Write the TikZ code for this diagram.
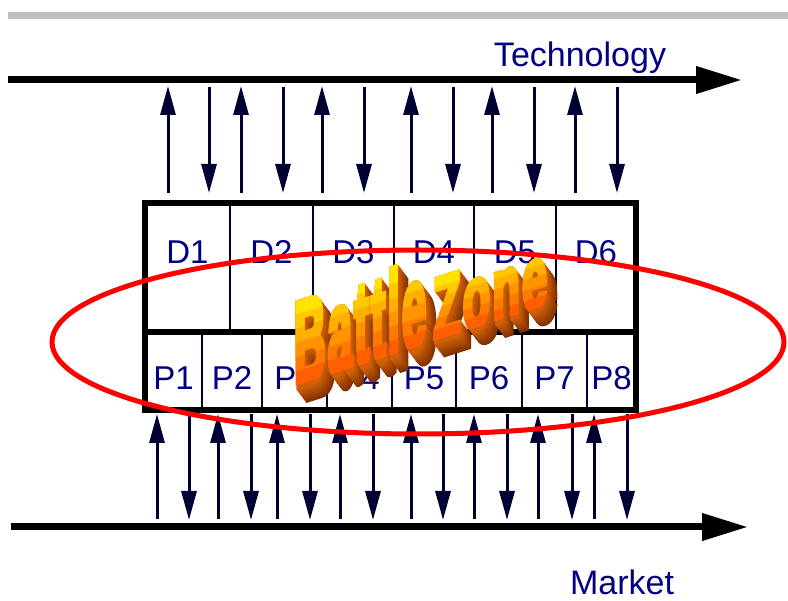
\documentclass[tikz,border=0pt]{standalone}
\usepackage{fontspec}
\setmainfont{Liberation Sans}
\newfontfamily\bzfont{Liberation Sans}[BoldFeatures={FakeBold=6,LetterSpace=5}]
\usetikzlibrary{arrows.meta}

\definecolor{navytext}{RGB}{0,0,128}
\definecolor{navyline}{RGB}{0,0,50}
\definecolor{bargray}{RGB}{192,192,192}
\definecolor{bztop}{RGB}{255,228,0}
\definecolor{bzbot}{RGB}{255,95,0}
\definecolor{bzside}{RGB}{215,100,10}
\definecolor{bzdeep}{RGB}{125,48,0}

\tikzset{
  flow/.style={line width=7pt, black, -{Triangle[length=46pt,width=26pt]}},
  link/.style={line width=3pt, navyline, -{Triangle[length=29pt,width=15pt]}},
  thinline/.style={line width=2pt, navyline},
  thickline/.style={line width=6pt, black, line cap=round},
  lbl/.style={text=navytext, font=\fontsize{34}{34}\selectfont, inner sep=0pt},
  cell/.style={text=navytext, font=\fontsize{33}{33}\selectfont, inner sep=0pt},
  bzface/.style={inner sep=0pt, anchor=base west, transform shape},
}

% one word of the 3D "Battle Zone" lettering
\newcommand{\bzword}[5]{%
  \foreach \k [evaluate=\k as \pc using {int(7*\k)}] in {14,13,...,1} {
    \begin{scope}[shift={#1}, xshift={0.75pt*\k}, yshift={-1pt*\k}, cm={#2,#3,0,1,(0,0)}]
      \node[bzface, font=\bzfont\bfseries\fontsize{#4}{#4}\selectfont, text=bzdeep!\pc!bzside] at (0,0) {#5};
    \end{scope}}
  \foreach \h/\pc in {0/0,0.12/20,0.24/40,0.36/60,0.48/80,0.6/100} {
    \begin{scope}[shift={#1}, cm={#2,#3,0,1,(0,0)}]
      \clip (-20,{-\h*#4}) rectangle (500,-200);
      \node[bzface, font=\bzfont\bfseries\fontsize{#4}{#4}\selectfont, text=bztop!\pc!bzbot] at (0,0) {#5};
    \end{scope}}
}

\begin{document}
\begin{tikzpicture}[x=1pt,y=-1pt]
  \useasboundingbox (0,0) rectangle (788,601);
  \fill[bargray] (8,12) rectangle (788,19);

  % technology and market lines
  \coordinate (techstart) at (8,80);
  \coordinate (techend) at (742,80);
  \draw[flow] (techstart) -- (techend);
  \node[lbl, anchor=base] (tech) at (580,67) {Technology};
  \coordinate (mktstart) at (11,527);
  \coordinate (mktend) at (748,527);
  \draw[flow] (mktstart) -- (mktend);
  \node[lbl, anchor=base] (mkt) at (622,595) {Market};

  % design row
  \foreach \a/\b [count=\i] in {145/230,230/313,313/394,394/474,474/556,556/636} {
    \draw[thinline] (\a,203) rectangle (\b,332);
    \node[cell] (d\i) at ({(\a+\b)/2},252) {D\i};
  }
  % product row
  \foreach \a/\b [count=\i] in {145/202,202/262,262/327,327/392,392/456,456/522,522/587,587/636} {
    \draw[thinline] (\a,332) rectangle (\b,410);
    \node[cell] (p\i) at ({(\a+\b)/2},378) {P\i};
  }
  \draw[thickline] (145,203) rectangle (636,410);
  \draw[thickline] (145,332) -- (636,332);

  % arrows to and from technology
  \foreach \x [count=\i] in {168,241,322,411,492,575} {
    \coordinate (tu\i) at (\x,86);
    \coordinate (bu\i) at (\x,193);
    \draw[link] (bu\i) -- (tu\i);
  }
  \foreach \x [count=\i] in {209,283,364,453,534,617} {
    \coordinate (td\i) at (\x,87);
    \coordinate (bd\i) at (\x,193);
    \draw[link] (td\i) -- (bd\i);
  }
  % arrows to and from market
  \foreach \x [count=\i] in {157,218,277,340,411,474,538,594} {
    \coordinate (mu\i) at (\x,519);
    \coordinate (pu\i) at (\x,414);
    \draw[link] (mu\i) -- (pu\i);
  }
  \foreach \x [count=\i] in {189,251,310,373,443,507,572,627} {
    \coordinate (pd\i) at (\x,414);
    \coordinate (md\i) at (\x,520);
    \draw[link] (pd\i) -- (md\i);
  }

  % battle zone
  \draw[red, line width=5pt] (418,342) ellipse [x radius=366pt, y radius=92pt];
  \bzword{(294,386)}{0.37}{0.118}{118}{Battle}
  \bzword{(433,341)}{0.51}{0.163}{88}{Zone}
\end{tikzpicture}
\end{document}
